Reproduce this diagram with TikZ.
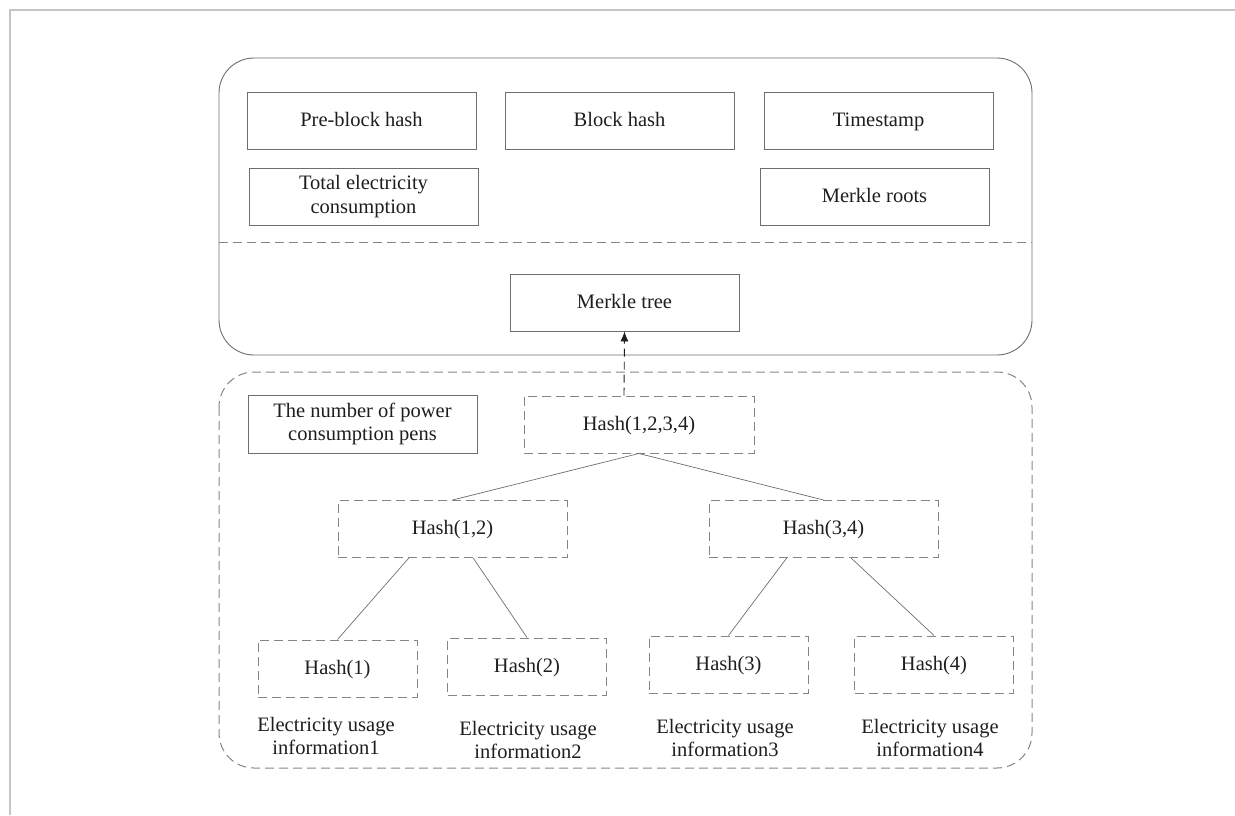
\documentclass[tikz,border=0pt]{standalone}
\usepackage{fontspec}
\setmainfont{Liberation Serif}
\usetikzlibrary{arrows.meta,calc}
\definecolor{framegray}{HTML}{C4C4C4}
\definecolor{boxgray}{HTML}{6E6E6E}
\definecolor{dashgray}{HTML}{858585}
\definecolor{textdark}{HTML}{1E1E1E}
\begin{document}
\begin{tikzpicture}[x=1pt,y=-1pt,
  every node/.style={text=textdark, font=\fontsize{20.5}{23.5}\selectfont, inner sep=0pt, align=center},
  oneline/.style={text height=16pt, text depth=4.5pt},
  solidbox/.style={draw=boxgray, line width=0.9pt, minimum width=229pt, minimum height=57pt},
  hashbox/.style={draw=dashgray, line width=1pt, dash pattern=on 9pt off 5pt, minimum width=229pt, minimum height=57pt, oneline},
  leafbox/.style={hashbox, minimum width=159pt},
  link/.style={draw=boxgray, line width=0.7pt},
  plainlabel/.style={}
]
\useasboundingbox (0,0) rectangle (1235,815);

% page frame
\draw[framegray, line width=1.5pt] (10,815) -- (10,10) -- (1235,10);

% block header container
\draw[boxgray, line width=0.9pt, rounded corners=35pt] (219,58) rectangle (1032,355);
\draw[dashgray, line width=1pt, dash pattern=on 9pt off 5pt] (219,242) -- (1032,242);

% block body container
\draw[dashgray, line width=1pt, dash pattern=on 9pt off 5pt, rounded corners=35pt] (219,372) rectangle (1032,768);

% header fields
\node[solidbox, oneline] (prev) at (361.5,121) {Pre-block hash};
\node[solidbox, oneline] (bhash) at (619.5,121) {Block hash};
\node[solidbox, oneline] (tstamp) at (878.5,121) {Timestamp};
\node[solidbox] (total) at (363.5,196.5) {Total electricity\\consumption};
\node[solidbox, oneline] (mroot) at (874.5,196.5) {Merkle roots};
\node[solidbox, oneline] (mtree) at (624.5,302.5) {Merkle tree};

% body
\node[solidbox, minimum height=58pt] (pens) at (362.5,424) {The number of power\\consumption pens};
\node[hashbox, minimum width=230pt] (h1234) at (639,424.5) {Hash(1,2,3,4)};
\node[hashbox] (h12) at (452.5,529) {Hash(1,2)};
\node[hashbox] (h34) at (823.5,529) {Hash(3,4)};
\node[leafbox] (h1) at (337.5,668.5) {Hash(1)};
\node[leafbox] (h2) at (527,666.5) {Hash(2)};
\node[leafbox] (h3) at (728.5,664.5) {Hash(3)};
\node[leafbox] (h4) at (934,664.5) {Hash(4)};

\node[plainlabel] (info1) at (326,736) {Electricity usage\\information1};
\node[plainlabel] (info2) at (528,740) {Electricity usage\\information2};
\node[plainlabel] (info3) at (725,738) {Electricity usage\\information3};
\node[plainlabel] (info4) at (930,738) {Electricity usage\\information4};

% tree links
\draw[link] (h1234.south) -- (h12.north);
\draw[link] (h1234.south) -- (h34.north);
\draw[link] ($(h12.south west)!0.31!(h12.south east)$) -- (h1.north);
\draw[link] ($(h12.south west)!0.59!(h12.south east)$) -- (h2.north);
\draw[link] ($(h34.south west)!0.34!(h34.south east)$) -- (h3.north);
\draw[link] ($(h34.south west)!0.62!(h34.south east)$) -- (h4.north);

% root feeds the merkle tree field
\draw[textdark, line width=0.9pt, dash pattern=on 8pt off 5pt, -{Latex[length=10pt,width=8pt]}] ($(h1234.north)+(-15,0)$) -- (mtree.south);
\end{tikzpicture}
\end{document}
